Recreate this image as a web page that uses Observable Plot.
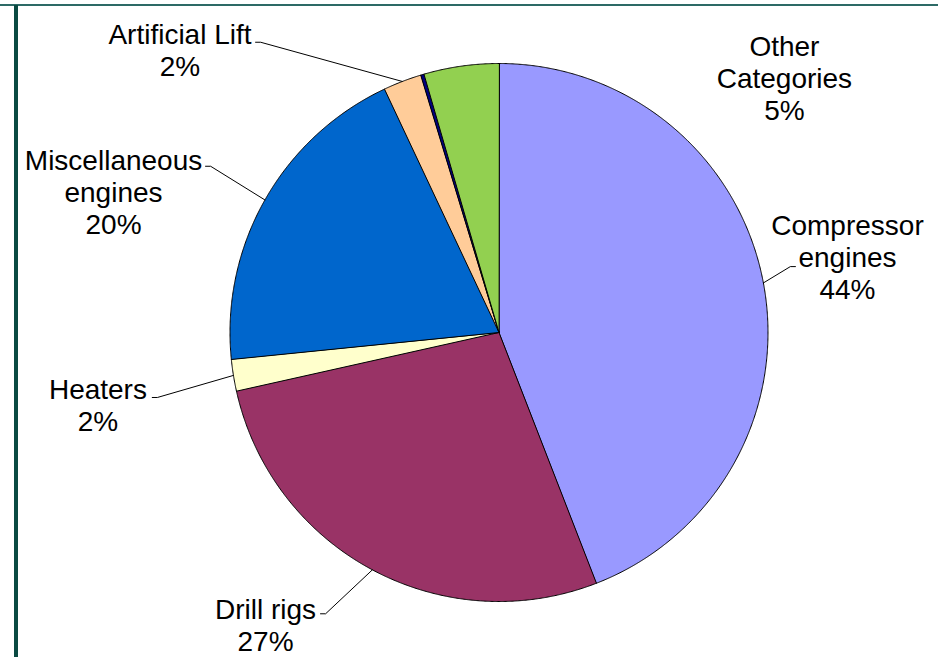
<!DOCTYPE html>
<html><head><meta charset="utf-8">
<script src="https://cdn.jsdelivr.net/npm/d3@7"></script>
<script src="https://cdn.jsdelivr.net/npm/@observablehq/plot@0.6"></script>
<style>
html,body{margin:0;padding:0;background:#fff;}
#wrap{position:relative;width:938px;height:657px;overflow:hidden;background:#fff;}
#wrap svg{position:absolute;left:0;top:0;}
#topline{position:absolute;left:0;top:4px;width:938px;height:2px;background:#2d6a66;}
#leftbar{position:absolute;left:14px;top:5px;width:4px;height:652px;background:#0a4a42;}
</style></head><body><div id="wrap"></div>
<script>
// ---- data ----
const categories = ["Compressor engines","Drill rigs","Heaters","Miscellaneous engines","Artificial Lift","Other (minor)","Other Categories"];
const labelLines = ["Compressor\nengines","Drill rigs","Heaters","Miscellaneous\nengines","Artificial Lift","","Other\nCategories"];
const values = [44.1, 27.4, 1.9, 19.6, 2.3, 0.2, 4.5];
const pctLabels = ["44%","27%","2%","20%","2%","","5%"];

// ---- styles / layout (not data) ----
const colors = ["#9999FF","#993366","#FFFFCC","#0066CC","#FFCC99","#000080","#92D050"];
// label block centres in pie-radius units (x right, y up)
const labelPos = [[1.2955,0.2825],[-0.868,-1.087],[-1.491,-0.2695],[-1.433,0.524],[-1.186,1.050],null,[1.061,0.948]];
// leader line starting points next to labels
const leaderStart = [[1.102,0.245],[-0.6636,-1.0457],[-1.289,-0.2416],[-1.091,0.618],[-0.905,1.079],null,null];

const total = d3.sum(values);
let cum = 0;
const slices = values.map((v, i) => {
  const a0 = cum / total * 2 * Math.PI;
  cum += v;
  const a1 = cum / total * 2 * Math.PI;
  return {i, name: categories[i], a0, a1, color: colors[i]};
});

function slicePoints(s) {
  const pts = [{x: 0, y: 0}];
  const n = Math.max(2, Math.ceil((s.a1 - s.a0) / (0.25 * Math.PI / 180)));
  for (let k = 0; k <= n; k++) {
    const a = s.a0 + (s.a1 - s.a0) * k / n;
    pts.push({x: Math.sin(a), y: Math.cos(a)});
  }
  return pts;
}

const sliceMarks = slices.map(s => Plot.line(slicePoints(s), {
  x: "x", y: "y", fill: s.color, stroke: "#000", strokeWidth: 1, curve: "linear-closed", strokeLinejoin: "round"
}));

const leaderMarks = [];
slices.forEach(s => {
  const st = leaderStart[s.i];
  if (!st) return;
  const am = (s.a0 + s.a1) / 2;
  const end = {x: Math.sin(am), y: Math.cos(am)};
  const dir = Math.sign(end.x - st[0]);
  const pts = [{x: st[0], y: st[1]}, {x: st[0] + dir * 0.019, y: st[1]}, end];
  leaderMarks.push(Plot.line(pts, {x: "x", y: "y", stroke: "#000", strokeWidth: 1}));
});

const labelRows = slices.filter(s => labelPos[s.i]).map(s => ({
  x: labelPos[s.i][0], y: labelPos[s.i][1], text: labelLines[s.i] + "\n" + pctLabels[s.i]
}));

const chart = Plot.plot({
  width: 938, height: 657,
  marginLeft: 229.5, marginRight: 170.5, marginTop: 63, marginBottom: 56,
  x: {domain: [-1, 1], axis: null},
  y: {domain: [-1, 1], axis: null},
  style: {fontFamily: "'Liberation Sans', Arial, sans-serif", background: "#fff", overflow: "visible"},
  marks: [
    ...sliceMarks,
    ...leaderMarks,
    Plot.text(labelRows, {x: "x", y: "y", text: "text", fontSize: 28, lineHeight: 1.15, textAnchor: "middle", lineAnchor: "middle", fill: "#000"})
  ]
});
const wrap = document.getElementById("wrap");
wrap.appendChild(chart);
const t = document.createElement("div"); t.id = "topline"; wrap.appendChild(t);
const l = document.createElement("div"); l.id = "leftbar"; wrap.appendChild(l);
</script>
</body></html>
